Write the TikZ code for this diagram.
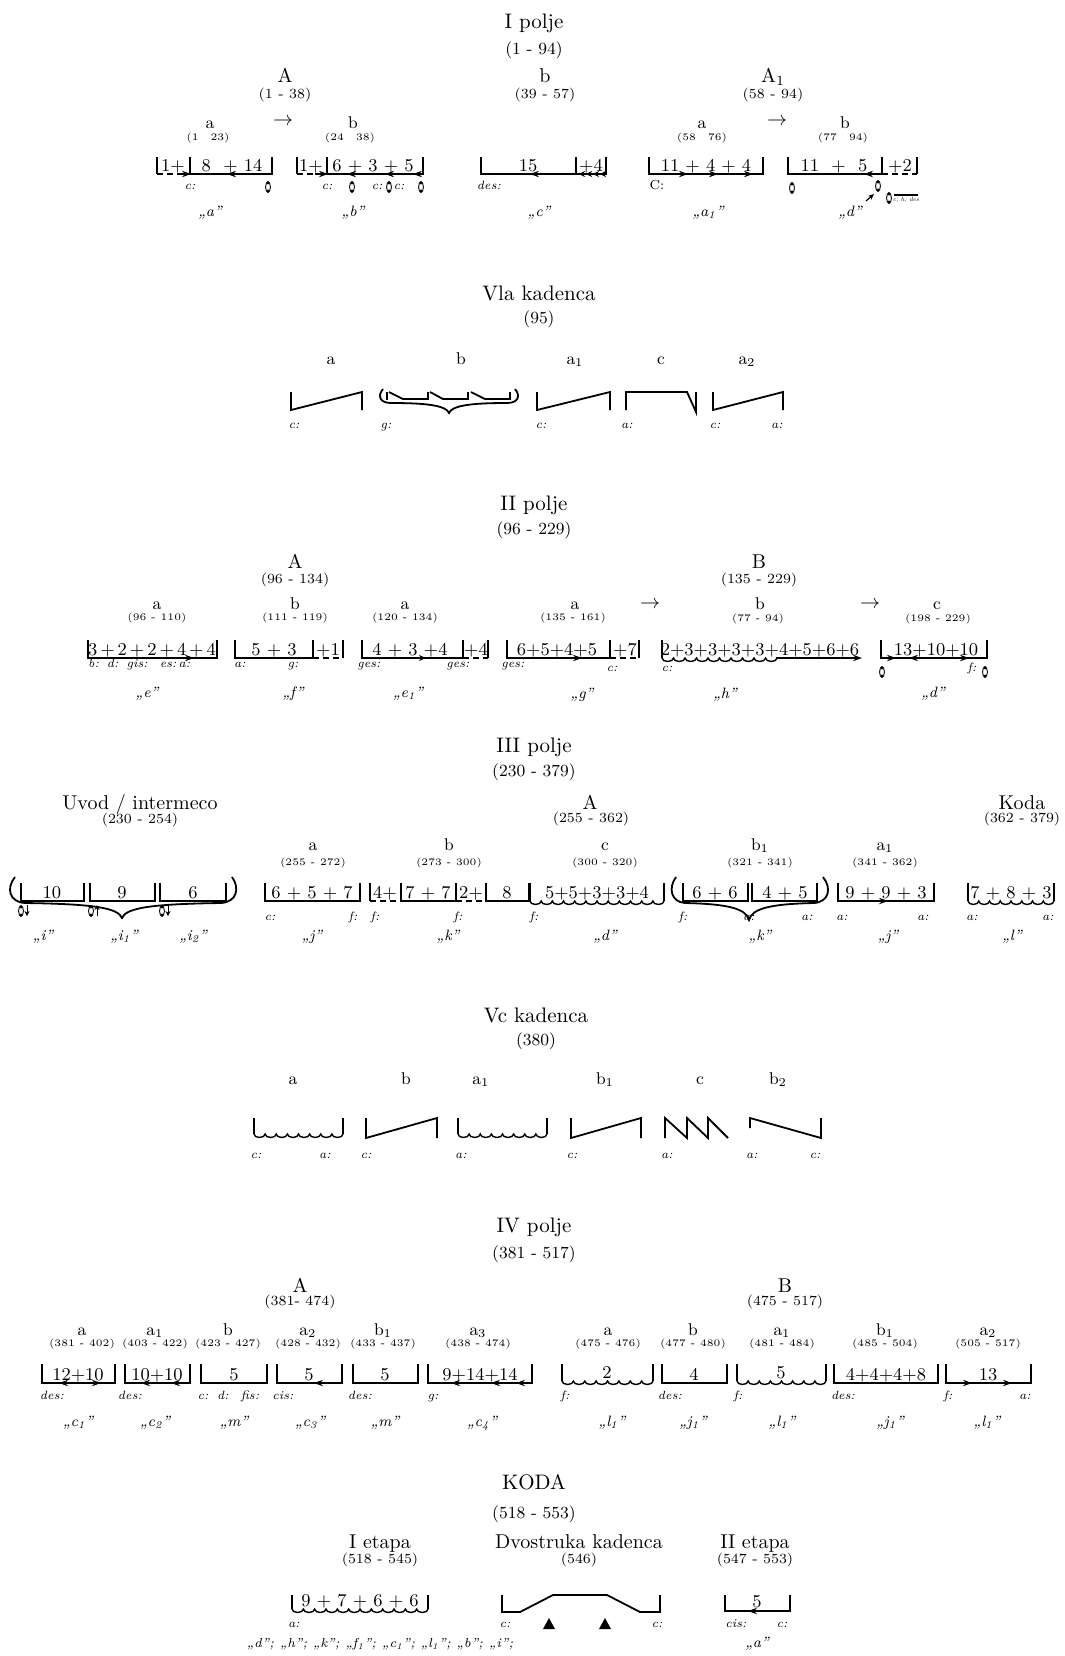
\documentclass[tikz,border=0pt]{standalone}
\usepackage{fontspec}
\usetikzlibrary{arrows.meta}
\tikzset{
  cadmark/.pic={\draw[line width=0.45pt] (0,0) ellipse [x radius=1.2pt, y radius=2.7pt];
    \fill (0,-4) circle [radius=0.85pt]; \fill (0,4) circle [radius=0.85pt];},
  ttl/.style={font=\fontsize{10.5}{12}\selectfont, anchor=base},
  ttn/.style={font=\fontsize{8.5}{10}\selectfont, anchor=base},
  prt/.style={font=\fontsize{10}{12}\selectfont, anchor=base},
  prn/.style={font=\fontsize{7}{8}\selectfont, anchor=base},
  sec/.style={font=\fontsize{8.5}{10}\selectfont, anchor=base},
  secn/.style={font=\fontsize{5}{6}\selectfont, anchor=base},
  num/.style={font=\fontsize{9}{10}\selectfont, anchor=base},
  key/.style={font=\fontsize{6}{7}\selectfont\itshape, anchor=base},
  quo/.style={font=\fontsize{7.5}{9}\selectfont\itshape, anchor=base},
  dsh/.style={dash pattern=on 3pt off 2pt},
  arr/.style={-{Stealth[length=4.5pt,width=3.2pt]}},
  sarr/.style={-{Stealth[length=3pt,width=3pt]}},
  darr/.style={{Stealth[length=4.5pt,width=3.2pt]}-{Stealth[length=4.5pt,width=3.2pt]}},
}
% scalloped (wavy) bottom line from x=#1 to x=#2 at height #3
\newcommand\wavyseg[3]{%
  \pgfmathtruncatemacro\wvn{max(1,round((#2-#1)/11))}%
  \pgfmathsetmacro\wvr{(#2-#1)/(2*\wvn)}%
  \draw[line width=0.7pt] (#1,#3) \foreach \wvi in {1,...,\wvn} { arc[start angle=180, end angle=0, x radius=\wvr, y radius=3.5] };%
}
\begin{document}
\begin{tikzpicture}[x=0.5pt,y=-0.5pt, line width=0.9pt, every node/.style={inner sep=0pt, outer sep=0pt}]
\fill[white] (0,0) rectangle (1065,1656);
\useasboundingbox (0,0) rectangle (1065,1656);

%%%%%%%%%%%%%%%% I polje
\node[ttl] (t1) at (534,28) {I polje};
\node[ttn] (t1n) at (534,54) {(1 - 94)};
\node[prt] (p1A) at (285,82) {A};
\node[prn] (p1An) at (285,98) {(1 - 38)};
\node[prt] (p1b) at (545,82) {b};
\node[prn] (p1bn) at (545,98) {(39 - 57)};
\node[prt] (p1A1) at (773,82) {A\textsubscript{1}};
\node[prn] (p1A1n) at (773,98) {(58 - 94)};
\node[prt] (ar1) at (283,125) {$\rightarrow$};
\node[prt] (ar2) at (777,125) {$\rightarrow$};
\node[sec] (s1a) at (210,128) {a};
\node[secn] (s1an) at (208,140) {(1\hspace{6pt}23)};
\node[sec] (s1b) at (353,128) {b};
\node[secn] (s1bn) at (350,140) {(24\hspace{6pt}38)};
\node[sec] (s1c) at (702,128) {a};
\node[secn] (s1cn) at (702,140) {(58\hspace{6pt}76)};
\node[sec] (s1d) at (845,128) {b};
\node[secn] (s1dn) at (843,140) {(77\hspace{6pt}94)};
% bracket 1
\draw (157,157) -- (157,174);
\draw[dsh] (157,174) -- (190,174);
\draw (190,157) -- (190,174) -- (272,174) -- (272,157);
\draw[arr] (178,174) -- (191,174);
\draw[arr] (242,174) -- (227,174);
\node[num] (n11) at (173,171) {1+};
\node[num] (n12) at (232,171) {8\ \ +\ 14};
\node[key] (k11) at (190,189) {c:};
\pic at (268,187) {cadmark};
\node[quo] (q11) at (210,216) {„a”};
% bracket 2
\draw (297,157) -- (297,174);
\draw[dsh] (297,174) -- (327,174);
\draw (327,157) -- (327,174) -- (423,174) -- (423,157);
\draw[arr] (315,174) -- (328,174);
\draw[arr] (362,174) -- (347,174);
\draw[arr] (400,174) -- (385,174);
\draw[arr] (423,174) -- (413,174);
\node[num] (n21) at (311,171) {1+};
\node[num] (n22) at (373,171) {6 + 3 + 5};
\node[key] (k21) at (327,189) {c:};
\pic at (352,187) {cadmark};
\node[key] (k22) at (377,189) {c:};
\pic at (389,187) {cadmark};
\node[key] (k23) at (399,189) {c:};
\pic at (421,187) {cadmark};
\node[quo] (q12) at (353,216) {„b”};
% bracket 3
\draw (481,157) -- (481,174) -- (606,174) -- (606,157);
\draw (576,157) -- (576,174);
\draw[arr] (547,174) -- (530,174);
\draw[sarr] (584,174) -- (579,174);
\draw[sarr] (591,174) -- (586,174);
\draw[sarr] (598,174) -- (593,174);
\draw[sarr] (605,174) -- (600,174);
\node[num] (n31) at (528,171) {15};
\node[num] (n32) at (591,171) {+4};
\node[key] (k31) at (489,189) {des:};
\node[quo] (q13) at (539,216) {„c”};
% bracket 4
\draw (649,157) -- (649,174) -- (763,174) -- (763,157);
\draw[arr] (672,174) -- (688,174);
\draw[arr] (703,174) -- (718,174);
\draw[arr] (738,174) -- (753,174);
\node[num] (n41) at (706,171) {11 + 4 + 4};
\node[font=\fontsize{6.5}{7}\selectfont, anchor=base] (k41) at (657,189) {C:};
\node[quo] (q14) at (708,216) {„a\textsubscript{1}”};
% bracket 5
\draw (788,157) -- (788,174) -- (882,174);
\draw (882,157) -- (882,174);
\draw[dsh] (882,174) -- (917,174);
\draw (917,157) -- (917,174);
\draw[arr] (880,174) -- (864,174);
\node[num] (n51) at (834,171) {11\ \ +\ \ 5};
\node[num] (n52) at (900,171) {+2};
\pic at (792,188) {cadmark};
\pic at (878,186) {cadmark};
\draw[-{Stealth[length=3pt,width=2.5pt]}, line width=0.6pt] (866,201) -- (874,194);
\pic at (889,198) {cadmark};
\draw[line width=0.6pt] (894,195) -- (918,195);
\node[font=\fontsize{3}{3}\selectfont\itshape, anchor=base] (k51) at (906,201) {c; h; des};
\node[quo] (q15) at (850,216) {„d”};

%%%%%%%%%%%%%%%% Vla kadenca
\node[ttl] (t2) at (539,300) {Vla kadenca};
\node[ttn] (t2n) at (539,323) {(95)};
\node[sec] (v1) at (331,364) {a};
\node[sec] (v2) at (461,364) {b};
\node[sec] (v3) at (575,364) {a\textsubscript{1}};
\node[sec] (v4) at (661,364) {c};
\node[sec] (v5) at (747,364) {a\textsubscript{2}};
\draw (291,392) -- (291,410) -- (362,392) -- (362,410);
\draw (387,392) -- (387,400);
\draw (428,392) -- (428,400);
\draw (468,392) -- (468,400);
\draw (510,392) -- (510,400);
\draw (389,392) -- (403,399) -- (428,399);
\draw (430,392) -- (443,399) -- (468,399);
\draw (471,392) -- (485,399) -- (510,399);
\draw (383,389) .. controls (377,396) and (380,403) .. (391,403) .. controls (430,403) and (446,406) .. (449,413) .. controls (452,406) and (468,403) .. (507,403) .. controls (518,403) and (521,396) .. (515,389);
\draw (537,392) -- (537,410) -- (610,392) -- (610,410);
\draw (626,410) -- (626,392) -- (687,392) -- (696,412) -- (696,392);
\draw (713,392) -- (713,410) -- (783,392) -- (783,410);
\node[key] (vk1) at (294,428) {c:};
\node[key] (vk2) at (386,428) {g:};
\node[key] (vk3) at (541,428) {c:};
\node[key] (vk4) at (627,428) {a:};
\node[key] (vk5) at (715,428) {c:};
\node[key] (vk6) at (777,428) {a:};

%%%%%%%%%%%%%%%% II polje
\node[ttl] (t3) at (534,510) {II polje};
\node[ttn] (t3n) at (534,534) {(96 - 229)};
\node[prt] (p3A) at (295,568) {A};
\node[prn] (p3An) at (295,583) {(96 - 134)};
\node[prt] (p3B) at (759,568) {B};
\node[prn] (p3Bn) at (759,583) {(135 - 229)};
\node[sec] (s31) at (157,609) {a};
\node[secn] (s31n) at (157,620) {(96 - 110)};
\node[sec] (s32) at (295,609) {b};
\node[secn] (s32n) at (295,620) {(111 - 119)};
\node[sec] (s33) at (405,609) {a};
\node[secn] (s33n) at (405,620) {(120 - 134)};
\node[sec] (s34) at (575,609) {a};
\node[secn] (s34n) at (573,620) {(135 - 161)};
\node[sec] (s35) at (760,609) {b};
\node[secn] (s35n) at (758,621) {(77 - 94)};
\node[sec] (s36) at (937,609) {c};
\node[secn] (s36n) at (938,621) {(198 - 229)};
\node[prt] (ar3) at (650,608) {$\rightarrow$};
\node[prt] (ar4) at (870,608) {$\rightarrow$};
% 1
\draw (88,640) -- (88,658) -- (217,658) -- (217,640);
\draw[arr] (172,658) -- (194,658);
\node[num] (m11) at (152,655) {3\,+\,2\,+\,2\,+\,4\,+\,4};
\node[key, anchor=base west] (mk1) at (88,667) {b:\hspace{4pt}d:\hspace{4pt}gis:\hspace{6pt}es:\,a:};
\node[quo] (mq1) at (147,697) {„e”};
% 2
\draw (235,640) -- (235,658) -- (313,658);
\draw (313,640) -- (313,658);
\draw[dsh] (313,658) -- (343,658);
\draw (343,640) -- (343,658);
\node[num] (m21) at (274,655) {5\ +\ 3};
\node[num] (m22) at (328,655) {+1};
\node[key] (mk21) at (240,667) {a:};
\node[key] (mk22) at (293,667) {g:};
\node[quo] (mq2) at (293,697) {„f”};
% 3
\draw (362,640) -- (362,658) -- (463,658);
\draw (463,640) -- (463,658);
\draw[dsh] (463,658) -- (488,658);
\draw (488,640) -- (488,658);
\draw[-{Stealth[length=3.5pt,width=3pt]}] (410,658) -- (426,658);
\node[num] (m31) at (410,655) {4 + 3 +4};
\node[num] (m32) at (476,655) {+4};
\node[key] (mk31) at (369,667) {ges:};
\node[key] (mk32) at (458,667) {ges:};
\node[quo] (mq3) at (408,697) {„e\textsubscript{1}”};
% 4
\draw (507,640) -- (507,658) -- (610,658);
\draw (610,640) -- (610,658);
\draw[dsh] (610,658) -- (639,658);
\draw (639,640) -- (639,658);
\draw[arr] (565,658) -- (582,658);
\node[num] (m41) at (557,655) {6+5+4+5};
\node[num] (m42) at (625,655) {+7};
\node[key] (mk41) at (513,667) {ges:};
\node[key] (mk42) at (612,671) {c:};
\node[quo] (mq4) at (582,698) {„g”};
% 5
\draw (662,640) -- (662,658);
\wavyseg{662}{777}{658}
\draw[arr] (776,658) -- (862,658);
\node[num] (m51) at (760,655) {2+3+3+3+3+4+5+6+6};
\node[key] (mk51) at (667,671) {c:};
\node[quo] (mq5) at (725,698) {„h”};
% 6
\draw (881,640) -- (881,658) -- (987,658) -- (987,640);
\draw[arr] (883,658) -- (896,658);
\draw[darr] (909,658) -- (969,658);
\node[num] (m61) at (936,655) {13+10+10};
\pic at (882,672) {cadmark};
\pic at (985,672) {cadmark};
\node[key] (mk61) at (972,671) {f:};
\node[quo] (mq6) at (933,697) {„d”};

%%%%%%%%%%%%%%%% III polje
\node[ttl] (t4) at (534,752) {III polje};
\node[ttn] (t4n) at (534,776) {(230 - 379)};
\node[prt] (p4U) at (140,809) {Uvod / intermeco};
\node[prn] (p4Un) at (140,823) {(230 - 254)};
\node[prt] (p4A) at (590,809) {A};
\node[prn] (p4An) at (591,822) {(255 - 362)};
\node[prt] (p4K) at (1022,809) {Koda};
\node[prn] (p4Kn) at (1022,822) {(362 - 379)};
\node[sec] (s41) at (313,850) {a};
\node[secn] (s41n) at (313,865) {(255 - 272)};
\node[sec] (s42) at (449,850) {b};
\node[secn] (s42n) at (449,865) {(273 - 300)};
\node[sec] (s43) at (605,850) {c};
\node[secn] (s43n) at (605,865) {(300 - 320)};
\node[sec] (s44) at (760,850) {b\textsubscript{1}};
\node[secn] (s44n) at (760,865) {(321 - 341)};
\node[sec] (s45) at (885,850) {a\textsubscript{1}};
\node[secn] (s45n) at (885,865) {(341 - 362)};
% Uvod
\draw (21,883) -- (21,901) -- (84,901) -- (84,883);
\draw (90,883) -- (90,901) -- (155,901) -- (155,883);
\draw (160,883) -- (160,901) -- (226,901) -- (226,883);
\node[num] (u1) at (52,898) {10};
\node[num] (u2) at (122,898) {9};
\node[num] (u3) at (193,898) {6};
\draw (15,877) .. controls (6,888) and (9,902) .. (25,903) .. controls (95,904) and (118,908) .. (122,918) .. controls (126,908) and (150,904) .. (221,903) .. controls (237,902) and (240,888) .. (232,877);
\pic at (21,911) {cadmark};
\pic at (91,911) {cadmark};
\pic at (162,911) {cadmark};
\draw[-{Stealth[length=2.5pt,width=2.5pt]}, line width=0.5pt] (27,905) -- (27,916);
\draw[-{Stealth[length=2.5pt,width=2.5pt]}, line width=0.5pt] (97,916) -- (97,905);
\draw[-{Stealth[length=2.5pt,width=2.5pt]}, line width=0.5pt] (168,905) -- (168,916);
\node[quo] (uq1) at (43,940) {„i”};
\node[quo] (uq2) at (124,940) {„i\textsubscript{1}”};
\node[quo] (uq3) at (193,940) {„i\textsubscript{2}”};
% a
\draw (265,883) -- (265,901) -- (360,901) -- (360,883);
\node[num] (r11) at (312,898) {6 + 5 + 7};
\node[key] (rk11) at (270,920) {c:};
\node[key] (rk12) at (353,920) {f:};
\node[quo] (rq1) at (312,940) {„j”};
% b
\draw (370,883) -- (370,901);
\draw[dsh] (370,901) -- (401,901);
\draw (401,883) -- (401,901) -- (456,901);
\draw (456,883) -- (456,901);
\draw[dsh] (456,901) -- (486,901);
\draw (486,883) -- (486,901) -- (529,901) -- (529,883);
\node[num] (r21) at (385,898) {4+};
\node[num] (r22) at (428,898) {7 + 7};
\node[num] (r23) at (471,898) {2+};
\node[num] (r24) at (507,898) {8};
\node[key] (rk21) at (375,920) {f:};
\node[key] (rk22) at (458,920) {f:};
\node[quo] (rq2) at (448,940) {„k”};
% c
\draw (530,883) -- (530,901);
\wavyseg{530}{664}{901}
\draw (664,901) -- (664,883);
\node[num] (r31) at (597,898) {5+5+3+3+4};
\node[key] (rk31) at (534,920) {f:};
\node[quo] (rq3) at (605,940) {„d”};
% b1
\draw (683,883) -- (683,901) -- (748,901) -- (748,883);
\draw (752,883) -- (752,901) -- (817,901) -- (817,883);
\node[num] (r41) at (715,898) {6 + 6};
\node[num] (r42) at (785,898) {4 + 5};
\draw (676,877) .. controls (668,888) and (671,902) .. (685,903) .. controls (730,904) and (746,909) .. (749,920) .. controls (752,909) and (768,904) .. (814,903) .. controls (829,902) and (832,888) .. (823,877);
\node[key] (rk41) at (683,920) {f:};
\node[key] (rk42) at (749,920) {a:};
\node[key] (rk43) at (807,920) {a:};
\node[quo] (rq4) at (760,940) {„k”};
% a1
\draw (838,883) -- (838,901) -- (934,901) -- (934,883);
\draw[arr] (870,901) -- (888,901);
\node[num] (r51) at (886,898) {9 + 9 + 3};
\node[key] (rk51) at (842,920) {a:};
\node[key] (rk52) at (923,920) {a:};
\node[quo] (rq5) at (888,940) {„j”};
% Koda
\draw (968,883) -- (968,901);
\wavyseg{968}{1054}{901}
\draw (1054,901) -- (1054,883);
\node[num] (r61) at (1011,898) {7 + 8 + 3};
\node[key] (rk61) at (972,920) {a:};
\node[key] (rk62) at (1048,920) {a:};
\node[quo] (rq6) at (1012,940) {„l”};

%%%%%%%%%%%%%%%% Vc kadenca
\node[ttl] (t5) at (536,1022) {Vc kadenca};
\node[ttn] (t5n) at (536,1045) {(380)};
\node[sec] (w1) at (293,1084) {a};
\node[sec] (w2) at (406,1084) {b};
\node[sec] (w3) at (481,1084) {a\textsubscript{1}};
\node[sec] (w4) at (605,1084) {b\textsubscript{1}};
\node[sec] (w5) at (700,1084) {c};
\node[sec] (w6) at (778,1084) {b\textsubscript{2}};
\draw (254,1118) -- (254,1134);
\draw (343,1118) -- (343,1134);
\wavyseg{254}{343}{1134}
\draw (366,1118) -- (366,1138) -- (437,1118) -- (437,1138);
\draw (458,1118) -- (458,1134);
\draw (547,1118) -- (547,1134);
\wavyseg{458}{547}{1134}
\draw (571,1118) -- (571,1138) -- (641,1118) -- (641,1138);
\draw (665,1138) -- (665,1118) -- (687,1138) -- (687,1118) -- (708,1138) -- (708,1118) -- (728,1138);
\draw (750,1128) -- (750,1118) -- (821,1138) -- (821,1118);
\node[key] (wk1) at (256,1158) {c:};
\node[key] (wk2) at (325,1158) {a:};
\node[key] (wk3) at (366,1158) {c:};
\node[key] (wk4) at (461,1158) {a:};
\node[key] (wk5) at (572,1158) {c:};
\node[key] (wk6) at (667,1158) {a:};
\node[key] (wk7) at (752,1158) {a:};
\node[key] (wk8) at (815,1158) {c:};

%%%%%%%%%%%%%%%% IV polje
\node[ttl] (t6) at (534,1232) {IV polje};
\node[ttn] (t6n) at (534,1258) {(381 - 517)};
\node[prt] (p6A) at (300,1292) {A};
\node[prn] (p6An) at (300,1305) {(381- 474)};
\node[prt] (p6B) at (785,1292) {B};
\node[prn] (p6Bn) at (785,1305) {(475 - 517)};
\node[sec] (s61) at (82,1335) {a};
\node[secn] (s61n) at (82,1346) {(381 - 402)};
\node[sec] (s62) at (155,1335) {a\textsubscript{1}};
\node[secn] (s62n) at (155,1346) {(403 - 422)};
\node[sec] (s63) at (228,1335) {b};
\node[secn] (s63n) at (228,1346) {(423 - 427)};
\node[sec] (s64) at (308,1335) {a\textsubscript{2}};
\node[secn] (s64n) at (308,1346) {(428 - 432)};
\node[sec] (s65) at (383,1335) {b\textsubscript{1}};
\node[secn] (s65n) at (383,1346) {(433 - 437)};
\node[sec] (s66) at (478,1335) {a\textsubscript{3}};
\node[secn] (s66n) at (478,1346) {(438 - 474)};
\node[sec] (s67) at (608,1335) {a};
\node[secn] (s67n) at (608,1346) {(475 - 476)};
\node[sec] (s68) at (693,1335) {b};
\node[secn] (s68n) at (693,1346) {(477 - 480)};
\node[sec] (s69) at (782,1335) {a\textsubscript{1}};
\node[secn] (s69n) at (782,1346) {(481 - 484)};
\node[sec] (s6a) at (885,1335) {b\textsubscript{1}};
\node[secn] (s6an) at (885,1346) {(485 - 504)};
\node[sec] (s6b) at (988,1335) {a\textsubscript{2}};
\node[secn] (s6bn) at (988,1346) {(505 - 517)};
% A1
\draw (42,1364) -- (42,1383) -- (115,1383) -- (115,1364);
\draw[darr] (59,1383) -- (101,1383);
\node[num] (x11) at (78,1380) {12+10};
\node[key] (xk11) at (52,1399) {des:};
% A2
\draw (125,1364) -- (125,1383) -- (190,1383) -- (190,1364);
\draw[arr] (158,1383) -- (141,1383);
\draw[arr] (188,1383) -- (171,1383);
\node[num] (x21) at (157,1380) {10+10};
\node[key] (xk21) at (130,1399) {des:};
% A3
\draw (201,1364) -- (201,1383) -- (267,1383) -- (267,1364);
\node[num] (x31) at (234,1380) {5};
\node[key] (xk31) at (203,1399) {c:};
\node[key] (xk32) at (223,1399) {d:};
\node[key] (xk33) at (250,1399) {fis:};
% A4
\draw (277,1364) -- (277,1383) -- (342,1383) -- (342,1364);
\draw[arr] (331,1383) -- (314,1383);
\node[num] (x41) at (309,1380) {5};
\node[key] (xk41) at (283,1399) {cis:};
% A5
\draw (353,1364) -- (353,1383) -- (418,1383) -- (418,1364);
\node[num] (x51) at (385,1380) {5};
\node[key] (xk51) at (360,1399) {des:};
% A6
\draw (428,1364) -- (428,1383) -- (532,1383) -- (532,1364);
\draw[arr] (468,1383) -- (451,1383);
\draw[arr] (508,1383) -- (491,1383);
\draw[arr] (531,1383) -- (516,1383);
\node[num] (x61) at (480,1380) {9+14+14};
\node[key] (xk61) at (433,1399) {g:};
% B1
\draw (562,1364) -- (562,1381);
\wavyseg{562}{653}{1381}
\draw (653,1381) -- (653,1364);
\node[num] (y11) at (607,1378) {2};
\node[key] (yk11) at (565,1399) {f:};
% B2
\draw (662,1364) -- (662,1383) -- (727,1383) -- (727,1364);
\node[num] (y21) at (694,1380) {4};
\node[key] (yk21) at (670,1399) {des:};
% B3
\draw (737,1364) -- (737,1381);
\wavyseg{737}{826}{1381}
\draw (826,1381) -- (826,1364);
\node[num] (y31) at (781,1378) {5};
\node[key] (yk31) at (738,1399) {f:};
% B4
\draw (834,1364) -- (834,1383) -- (938,1383) -- (938,1364);
\node[num] (y41) at (886,1380) {4+4+4+8};
\node[key] (yk41) at (843,1399) {des:};
% B5
\draw (946,1364) -- (946,1383) -- (1031,1383) -- (1031,1364);
\draw[arr] (946,1383) -- (972,1383);
\draw[arr] (994,1383) -- (1012,1383);
\node[num] (y51) at (988,1380) {13};
\node[key] (yk51) at (948,1399) {f:};
\node[key] (yk52) at (1025,1399) {a:};
% quotes
\node[quo] (zq1) at (78,1426) {„c\textsubscript{1}”};
\node[quo] (zq2) at (155,1426) {„c\textsubscript{2}”};
\node[quo] (zq3) at (234,1426) {„m”};
\node[quo] (zq4) at (310,1426) {„c\textsubscript{3}”};
\node[quo] (zq5) at (385,1426) {„m”};
\node[quo] (zq6) at (482,1426) {„c\textsubscript{4}”};
\node[quo] (zq7) at (612,1426) {„l\textsubscript{1}”};
\node[quo] (zq8) at (693,1426) {„j\textsubscript{1}”};
\node[quo] (zq9) at (782,1426) {„l\textsubscript{1}”};
\node[quo] (zqa) at (890,1426) {„j\textsubscript{1}”};
\node[quo] (zqb) at (987,1426) {„l\textsubscript{1}”};

%%%%%%%%%%%%%%%% KODA
\node[ttl] (t7) at (534,1489) {KODA};
\node[ttn] (t7n) at (534,1518) {(518 - 553)};
\node[prt] (k1) at (380,1548) {I etapa};
\node[prn] (k1n) at (380,1563) {(518 - 545)};
\node[prt] (k2) at (579,1548) {Dvostruka kadenca};
\node[prn] (k2n) at (579,1563) {(546)};
\node[prt] (k3) at (755,1548) {II etapa};
\node[prn] (k3n) at (755,1563) {(547 - 553)};
% I etapa
\draw (292,1595) -- (292,1609);
\wavyseg{292}{428}{1609}
\draw (428,1609) -- (428,1595);
\node[num] (kb1) at (360,1606) {9 + 7 + 6 + 6};
\node[key] (kk1) at (294,1627) {a:};
\node[font=\fontsize{6.5}{8}\selectfont\itshape, anchor=base] (kl1) at (380,1647) {„d”; „h”; „k”; „f\textsubscript{1}”; „c\textsubscript{1}”; „l\textsubscript{1}”; „b”; „i”;};
% Dvostruka
\draw (502,1595) -- (502,1612) -- (520,1612) -- (553,1595) -- (607,1595) -- (640,1612) -- (660,1612) -- (660,1595);
\fill (543,1629) -- (555,1629) -- (549,1618) -- cycle;
\fill (599,1629) -- (611,1629) -- (605,1618) -- cycle;
\node[key] (kk2) at (505,1627) {c:};
\node[key] (kk3) at (657,1627) {c:};
% II etapa
\draw (725,1595) -- (725,1611) -- (790,1611) -- (790,1595);
\draw[arr] (766,1611) -- (748,1611);
\node[num] (kb3) at (757,1607) {5};
\node[key] (kk4) at (736,1627) {cis:};
\node[key] (kk5) at (782,1627) {c:};
\node[quo] (kq3) at (757,1647) {„a”};
\end{tikzpicture}
\end{document}
